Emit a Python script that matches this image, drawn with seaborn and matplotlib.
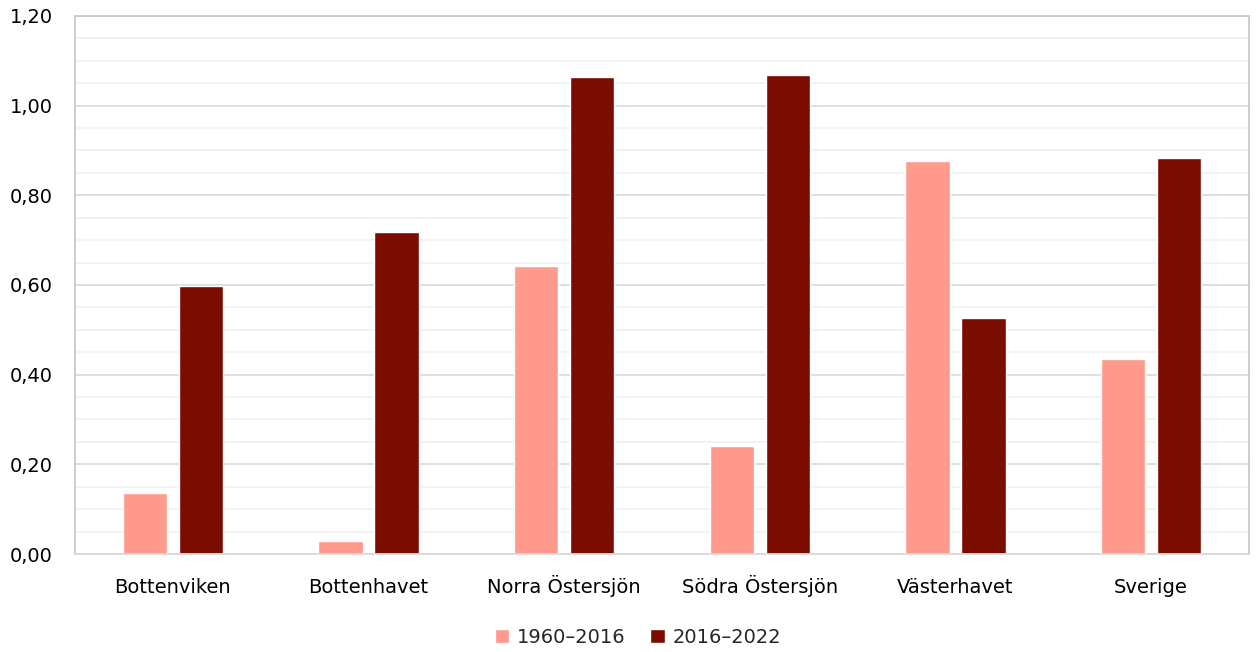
import pandas as pd
import seaborn as sns
import matplotlib.pyplot as plt
from matplotlib.ticker import MultipleLocator, FuncFormatter

# values
regions = ['Bottenviken', 'Bottenhavet', 'Norra Östersjön', 'Södra Östersjön', 'Västerhavet', 'Sverige']
period_1 = [0.136, 0.029, 0.642, 0.241, 0.877, 0.435]
period_2 = [0.598, 0.718, 1.064, 1.068, 0.526, 0.883]
periods = ['1960–2016', '2016–2022']
colors = ['#FF9A8C', '#7A0C00']

df = pd.DataFrame({'region': regions * 2,
                   'period': [periods[0]] * 6 + [periods[1]] * 6,
                   'value': period_1 + period_2})

sns.set_style('white')
plt.rcParams['font.family'] = ['DejaVu Sans']

fig = plt.figure(figsize=(12.57, 6.52), dpi=100)
ax = fig.add_axes([0.0597, 0.1503, 0.9339, 0.8252])

sns.barplot(data=df, x='region', y='value', hue='period', palette=colors,
            width=0.572, gap=0.21, saturation=1, ax=ax, legend=True)

ax.set_ylim(0, 1.2)
ax.set_xlim(-0.5, 5.5)
ax.yaxis.set_major_locator(MultipleLocator(0.2))
ax.yaxis.set_minor_locator(MultipleLocator(0.05))
ax.yaxis.set_major_formatter(FuncFormatter(lambda v, p: f'{v:.2f}'.replace('.', ',')))
ax.grid(axis='y', which='major', color='#D9D9D9', linewidth=1.2)
ax.grid(axis='y', which='minor', color='#F0F0F0', linewidth=1.2)
ax.set_axisbelow(True)
for s in ax.spines.values():
    s.set_color('#C8C8C8')
    s.set_linewidth(1.3)
ax.spines['bottom'].set_color('#D9D9D9')
ax.tick_params(axis='both', which='both', length=0, labelsize=14, colors='black')
ax.tick_params(axis='x', pad=28)
ax.tick_params(axis='y', pad=16)
# baseline-align category labels so the Ö does not push them down
for lbl in ax.get_xticklabels():
    lbl.set_verticalalignment('baseline')
ax.set_xlabel('')
ax.set_ylabel('')

ax.legend(loc='center', bbox_to_anchor=(0.5076, 0.023), bbox_transform=fig.transFigure,
          ncol=2, frameon=False, fontsize=14, handlelength=0.75, handleheight=0.75,
          handletextpad=0.4, columnspacing=1.25)

plt.savefig('out.png', dpi=100)
